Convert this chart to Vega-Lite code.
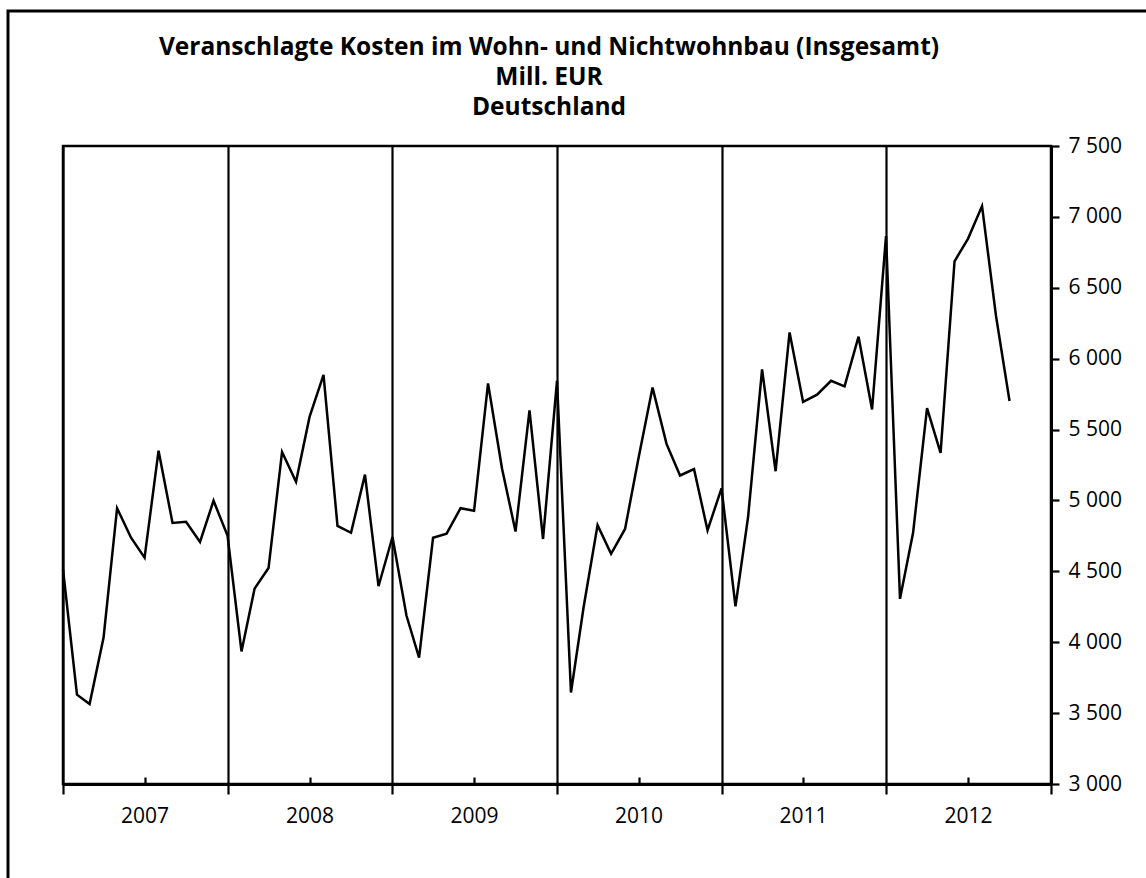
{
  "$schema": "https://vega.github.io/schema/vega-lite/v6.json",
  "width": 988,
  "height": 638,
  "autosize": {"type": "none"},
  "padding": {"left": 63, "top": 146, "right": 95, "bottom": 94},
  "background": "white",
  "config": {
    "locale": {"number": {"decimal": ",", "thousands": " ", "grouping": [3], "currency": ["", " €"]}},
    "view": {"stroke": "black", "strokeWidth": 2.5},
    "font": "Open Sans"
  },
  "title": {
    "text": ["Veranschlagte Kosten im Wohn- und Nichtwohnbau (Insgesamt)", "Mill. EUR", "Deutschland"],
    "font": "Open Sans",
    "fontSize": 24.5,
    "fontWeight": "bold",
    "lineHeight": 30,
    "color": "black",
    "anchor": "middle",
    "frame": "group",
    "dx": -8,
    "offset": -111
  },
  "data": {
    "values": [
      {"date": "2007-01-01", "value": 4514},
      {"date": "2007-02-01", "value": 3630},
      {"date": "2007-03-01", "value": 3564},
      {"date": "2007-04-01", "value": 4033},
      {"date": "2007-05-01", "value": 4945},
      {"date": "2007-06-01", "value": 4737},
      {"date": "2007-07-01", "value": 4597},
      {"date": "2007-08-01", "value": 5351},
      {"date": "2007-09-01", "value": 4841},
      {"date": "2007-10-01", "value": 4850},
      {"date": "2007-11-01", "value": 4707},
      {"date": "2007-12-01", "value": 4998},
      {"date": "2008-01-01", "value": 4752},
      {"date": "2008-02-01", "value": 3935},
      {"date": "2008-03-01", "value": 4378},
      {"date": "2008-04-01", "value": 4523},
      {"date": "2008-05-01", "value": 5342},
      {"date": "2008-06-01", "value": 5132},
      {"date": "2008-07-01", "value": 5589},
      {"date": "2008-08-01", "value": 5885},
      {"date": "2008-09-01", "value": 4820},
      {"date": "2008-10-01", "value": 4772},
      {"date": "2008-11-01", "value": 5182},
      {"date": "2008-12-01", "value": 4395},
      {"date": "2009-01-01", "value": 4742},
      {"date": "2009-02-01", "value": 4188},
      {"date": "2009-03-01", "value": 3891},
      {"date": "2009-04-01", "value": 4737},
      {"date": "2009-05-01", "value": 4766},
      {"date": "2009-06-01", "value": 4945},
      {"date": "2009-07-01", "value": 4927},
      {"date": "2009-08-01", "value": 5826},
      {"date": "2009-09-01", "value": 5226},
      {"date": "2009-10-01", "value": 4781},
      {"date": "2009-11-01", "value": 5636},
      {"date": "2009-12-01", "value": 4728},
      {"date": "2010-01-01", "value": 5844},
      {"date": "2010-02-01", "value": 3645},
      {"date": "2010-03-01", "value": 4247},
      {"date": "2010-04-01", "value": 4826},
      {"date": "2010-05-01", "value": 4624},
      {"date": "2010-06-01", "value": 4799},
      {"date": "2010-07-01", "value": 5301},
      {"date": "2010-08-01", "value": 5796},
      {"date": "2010-09-01", "value": 5399},
      {"date": "2010-10-01", "value": 5176},
      {"date": "2010-11-01", "value": 5221},
      {"date": "2010-12-01", "value": 4790},
      {"date": "2011-01-01", "value": 5085},
      {"date": "2011-02-01", "value": 4253},
      {"date": "2011-03-01", "value": 4885},
      {"date": "2011-04-01", "value": 5924},
      {"date": "2011-05-01", "value": 5206},
      {"date": "2011-06-01", "value": 6185},
      {"date": "2011-07-01", "value": 5695},
      {"date": "2011-08-01", "value": 5746},
      {"date": "2011-09-01", "value": 5844},
      {"date": "2011-10-01", "value": 5805},
      {"date": "2011-11-01", "value": 6155},
      {"date": "2011-12-01", "value": 5642},
      {"date": "2012-01-01", "value": 6865},
      {"date": "2012-02-01", "value": 4306},
      {"date": "2012-03-01", "value": 4772},
      {"date": "2012-04-01", "value": 5651},
      {"date": "2012-05-01", "value": 5336},
      {"date": "2012-06-01", "value": 6687},
      {"date": "2012-07-01", "value": 6847},
      {"date": "2012-08-01", "value": 7076},
      {"date": "2012-09-01", "value": 6301},
      {"date": "2012-10-01", "value": 5701}
    ]
  },
  "layer": [
    {
      "data": {"values": [{}]},
      "mark": {"type": "rect", "fill": null, "stroke": "black", "strokeWidth": 3},
      "encoding": {
        "x": {"value": -55},
        "y": {"value": -135},
        "x2": {"value": 1200},
        "y2": {"value": 900}
      }
    },
    {
      "mark": {"type": "line", "color": "black", "strokeWidth": 2.5},
      "encoding": {
        "x": {
          "field": "date",
          "type": "temporal",
          "scale": {
            "type": "utc",
            "domain": [
              {"year": 2007, "month": 1, "date": 1, "utc": true},
              {"year": 2013, "month": 1, "date": 1, "utc": true}
            ]
          },
          "axis": {
            "orient": "bottom",
            "title": null,
            "labels": false,
            "values": [
              {"year": 2007, "month": 1, "date": 1, "utc": true},
              {"year": 2008, "month": 1, "date": 1, "utc": true},
              {"year": 2009, "month": 1, "date": 1, "utc": true},
              {"year": 2010, "month": 1, "date": 1, "utc": true},
              {"year": 2011, "month": 1, "date": 1, "utc": true},
              {"year": 2012, "month": 1, "date": 1, "utc": true},
              {"year": 2013, "month": 1, "date": 1, "utc": true}
            ],
            "grid": true,
            "gridColor": "black",
            "gridWidth": 2.2,
            "gridOpacity": 1,
            "domainColor": "black",
            "domainWidth": 3,
            "tickColor": "black",
            "tickWidth": 2.2,
            "tickSize": 10
          }
        },
        "y": {
          "field": "value",
          "type": "quantitative",
          "scale": {"domain": [3000, 7500], "nice": false, "zero": false},
          "axis": {
            "orient": "right",
            "title": null,
            "values": [3000, 3500, 4000, 4500, 5000, 5500, 6000, 6500, 7000, 7500],
            "format": ",d",
            "grid": false,
            "domainColor": "black",
            "domainWidth": 3,
            "tickColor": "black",
            "tickWidth": 2.2,
            "tickSize": 8,
            "labelPadding": 9,
            "labelFont": "Open Sans",
            "labelFontSize": 21,
            "labelColor": "black"
          }
        }
      }
    },
    {
      "mark": {"type": "line", "opacity": 0},
      "encoding": {
        "x": {
          "field": "date",
          "type": "temporal",
          "axis": {
            "orient": "bottom",
            "title": null,
            "domain": false,
            "grid": false,
            "values": [
              {"year": 2007, "month": 7, "date": 1, "utc": true},
              {"year": 2008, "month": 7, "date": 1, "utc": true},
              {"year": 2009, "month": 7, "date": 1, "utc": true},
              {"year": 2010, "month": 7, "date": 1, "utc": true},
              {"year": 2011, "month": 7, "date": 1, "utc": true},
              {"year": 2012, "month": 7, "date": 1, "utc": true}
            ],
            "labelExpr": "utcFormat(datum.value, '%Y')",
            "tickColor": "black",
            "tickWidth": 2.2,
            "tickSize": -7,
            "labelPadding": 28,
            "labelFont": "Open Sans",
            "labelFontSize": 21,
            "labelColor": "black"
          }
        },
        "y": {"field": "value", "type": "quantitative"}
      }
    }
  ],
  "resolve": {"axis": {"x": "independent"}}
}
